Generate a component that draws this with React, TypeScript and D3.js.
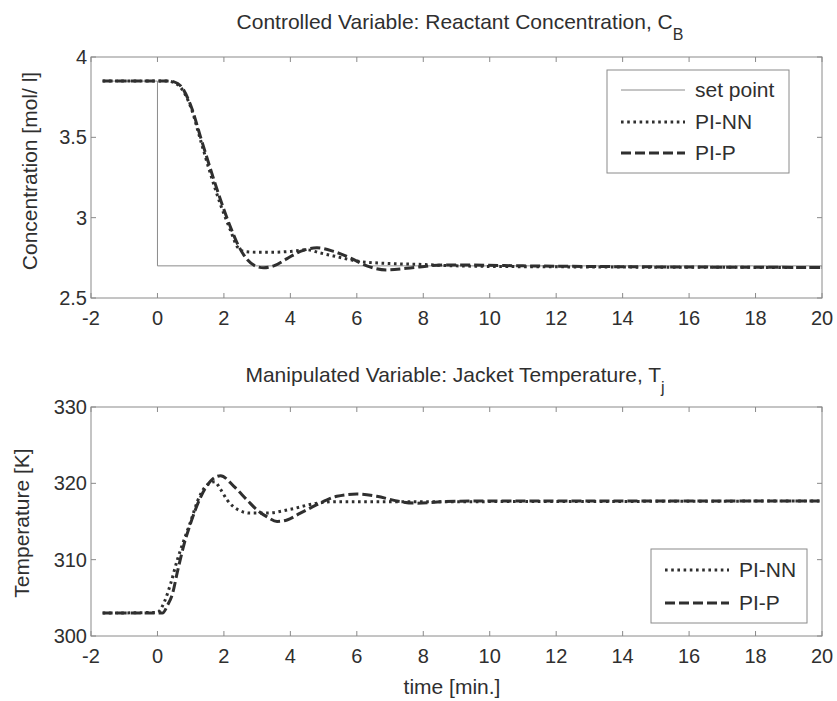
import React from "react";
import * as d3 from "d3";

// ---- Controlled variable: reactant concentration C_B [mol/l] ----
const cbTimePIP = [-1.65, 0.3, 0.5, 0.7, 1.0, 1.3, 1.6, 1.9, 2.2, 2.45, 2.7, 3.0, 3.2, 3.5, 3.9, 4.3, 4.8, 5.3, 5.8, 6.3, 6.9, 7.5, 8.6, 9.5, 11, 20];
const cbValuePIP = [3.85, 3.85, 3.845, 3.82, 3.70, 3.50, 3.30, 3.11, 2.94, 2.82, 2.74, 2.695, 2.688, 2.70, 2.745, 2.79, 2.812, 2.79, 2.75, 2.70, 2.675, 2.685, 2.705, 2.705, 2.70, 2.69];

const cbTimePINN = [-1.65, 0.3, 0.5, 0.7, 1.0, 1.3, 1.6, 1.9, 2.2, 2.4, 2.6, 3.0, 3.5, 4.0, 4.5, 4.9, 5.4, 6.0, 6.8, 7.8, 9, 11, 20];
const cbValuePINN = [3.85, 3.85, 3.84, 3.81, 3.69, 3.48, 3.27, 3.08, 2.92, 2.82, 2.79, 2.785, 2.785, 2.79, 2.80, 2.78, 2.757, 2.73, 2.716, 2.71, 2.70, 2.695, 2.69];

const setPointTime = [-1.65, 0, 0, 20];
const setPointValue = [3.85, 3.85, 2.7, 2.7];

// ---- Manipulated variable: jacket temperature T_j [K] ----
const tjTimePIP = [-1.65, 0.15, 0.3, 0.45, 0.6, 0.8, 1.0, 1.3, 1.6, 1.9, 2.3, 2.7, 3.0, 3.3, 3.6, 3.9, 4.3, 4.8, 5.4, 6.0, 6.6, 7.3, 7.8, 8.6, 10, 20];
const tjValuePIP = [303, 303, 304, 305.5, 308.4, 312.0, 314.8, 318.2, 320.3, 321.0, 319.6, 317.8, 316.5, 315.6, 315.0, 315.2, 316.1, 317.2, 318.3, 318.6, 318.3, 317.6, 317.4, 317.6, 317.7, 317.7];

const tjTimePINN = [-1.65, 0.0, 0.2, 0.4, 0.6, 0.8, 1.0, 1.2, 1.45, 1.72, 1.9, 2.1, 2.4, 2.8, 3.3, 4.0, 4.8, 5.4, 8, 20];
const tjValuePINN = [303, 303.1, 304.4, 306.9, 310.0, 312.6, 315.0, 317.6, 319.6, 320.2, 319.2, 317.8, 316.6, 316.1, 316.1, 316.6, 317.4, 317.6, 317.6, 317.7];

// ---- Axes ----
const xTicks = [-2, 0, 2, 4, 6, 8, 10, 12, 14, 16, 18, 20];
const cbTicks = [2.5, 3, 3.5, 4];
const tjTicks = [300, 310, 320, 330];
const cbLegend = ["set point", "PI-NN", "PI-P"];
const tjLegend = ["PI-NN", "PI-P"];

const W = 837;
const H = 701;
const FONT = "Arial, 'Liberation Sans', Helvetica, sans-serif";
const INK = "#2f2f2f";
const FRAME = "#8a8a8a";

const DASHED = "10,4";
const DOTTED = "2.6,3.6";

type Pt = [number, number];
const zip = (a: number[], b: number[]): Pt[] => a.map((v, i) => [v, b[i]]);

interface PanelProps {
  top: number;
  bottom: number;
  yDomain: [number, number];
  yTicks: number[];
  yFmt: (v: number) => string;
  children: (x: d3.ScaleLinear<number, number>, y: d3.ScaleLinear<number, number>) => React.ReactNode;
}

const LEFT = 91;
const RIGHT = 822;

function Panel({ top, bottom, yDomain, yTicks, yFmt, children }: PanelProps) {
  const x = d3.scaleLinear().domain([-2, 20]).range([LEFT, RIGHT]);
  const y = d3.scaleLinear().domain(yDomain).range([bottom, top]);
  const tl = 5;
  return (
    <g>
      {children(x, y)}
      <rect x={LEFT} y={top} width={RIGHT - LEFT} height={bottom - top} fill="none" stroke={FRAME} strokeWidth={1} />
      {xTicks.map((t) => (
        <g key={"x" + t}>
          <line x1={x(t)} x2={x(t)} y1={bottom} y2={bottom - tl} stroke={FRAME} />
          <line x1={x(t)} x2={x(t)} y1={top} y2={top + tl} stroke={FRAME} />
          <text x={x(t)} y={bottom + 27} textAnchor="middle" fontSize={20} fill={INK} fontFamily={FONT}>
            {t}
          </text>
        </g>
      ))}
      {yTicks.map((t) => (
        <g key={"y" + t}>
          <line x1={LEFT} x2={LEFT + tl} y1={y(t)} y2={y(t)} stroke={FRAME} />
          <line x1={RIGHT} x2={RIGHT - tl} y1={y(t)} y2={y(t)} stroke={FRAME} />
          <text x={LEFT - 4} y={y(t) + 7} textAnchor="end" fontSize={20} fill={INK} fontFamily={FONT}>
            {yFmt(t)}
          </text>
        </g>
      ))}
    </g>
  );
}

function LegendRow({ x, y, dash, width, label }: { x: number; y: number; dash: string | null; width: number; label: string }) {
  return (
    <g>
      <line
        x1={x}
        x2={x + 64}
        y1={y}
        y2={y}
        stroke={dash ? INK : "#8a8a8a"}
        strokeWidth={width}
        strokeDasharray={dash ?? undefined}
      />
      <text x={x + 74} y={y + 7} fontSize={21} fill={INK} fontFamily={FONT}>
        {label}
      </text>
    </g>
  );
}

export default function App() {
  const curve = d3.line<Pt>().curve(d3.curveMonotoneX);
  const step = d3.line<Pt>();

  return (
    <svg width={W} height={H} style={{ position: "absolute", left: 0, top: 0, background: "#fff" }}>
      <rect width={W} height={H} fill="#fff" />

      {/* upper panel */}
      <text x={460} y={29} textAnchor="middle" fontSize={21} fill={INK} fontFamily={FONT}>
        Controlled Variable: Reactant Concentration, C
        <tspan fontSize={16} dy={11}>B</tspan>
      </text>
      <Panel top={57} bottom={298} yDomain={[2.5, 4]} yTicks={cbTicks} yFmt={(v) => String(v)}>
        {(x, y) => {
          curve.x((d) => x(d[0])).y((d) => y(d[1]));
          step.x((d) => x(d[0])).y((d) => y(d[1]));
          return (
            <g fill="none">
              <path d={step(zip(setPointTime, setPointValue)) ?? ""} stroke="#8a8a8a" strokeWidth={1} />
              <path d={curve(zip(cbTimePINN, cbValuePINN)) ?? ""} stroke={INK} strokeWidth={3} strokeDasharray={DOTTED} />
              <path d={curve(zip(cbTimePIP, cbValuePIP)) ?? ""} stroke={INK} strokeWidth={3} strokeDasharray={DASHED} />
            </g>
          );
        }}
      </Panel>
      <text transform="translate(37,171) rotate(-90)" textAnchor="middle" fontSize={21} fill={INK} fontFamily={FONT}>
        Concentration [mol/ l]
      </text>
      <g>
        <rect x={607} y={70} width={182} height={103} fill="#fff" stroke={FRAME} strokeWidth={1} />
        <LegendRow x={621} y={90} dash={null} width={1} label={cbLegend[0]} />
        <LegendRow x={621} y={122} dash={DOTTED} width={3} label={cbLegend[1]} />
        <LegendRow x={621} y={153} dash={DASHED} width={3} label={cbLegend[2]} />
      </g>

      {/* lower panel */}
      <text x={455} y={382} textAnchor="middle" fontSize={21} fill={INK} fontFamily={FONT}>
        Manipulated Variable: Jacket Temperature, T
        <tspan fontSize={16} dy={11}>j</tspan>
      </text>
      <Panel top={407} bottom={636} yDomain={[300, 330]} yTicks={tjTicks} yFmt={(v) => String(v)}>
        {(x, y) => {
          curve.x((d) => x(d[0])).y((d) => y(d[1]));
          return (
            <g fill="none">
              <path d={curve(zip(tjTimePINN, tjValuePINN)) ?? ""} stroke={INK} strokeWidth={3} strokeDasharray={DOTTED} />
              <path d={curve(zip(tjTimePIP, tjValuePIP)) ?? ""} stroke={INK} strokeWidth={3} strokeDasharray={DASHED} />
            </g>
          );
        }}
      </Panel>
      <text transform="translate(29,523) rotate(-90)" textAnchor="middle" fontSize={21} fill={INK} fontFamily={FONT}>
        Temperature [K]
      </text>
      <g>
        <rect x={651} y={549} width={156} height={74} fill="#fff" stroke={FRAME} strokeWidth={1} />
        <LegendRow x={665} y={570} dash={DOTTED} width={3} label={tjLegend[0]} />
        <LegendRow x={665} y={603} dash={DASHED} width={3} label={tjLegend[1]} />
      </g>
      <text x={452} y={694} textAnchor="middle" fontSize={21} fill={INK} fontFamily={FONT}>
        time [min.]
      </text>
    </svg>
  );
}
